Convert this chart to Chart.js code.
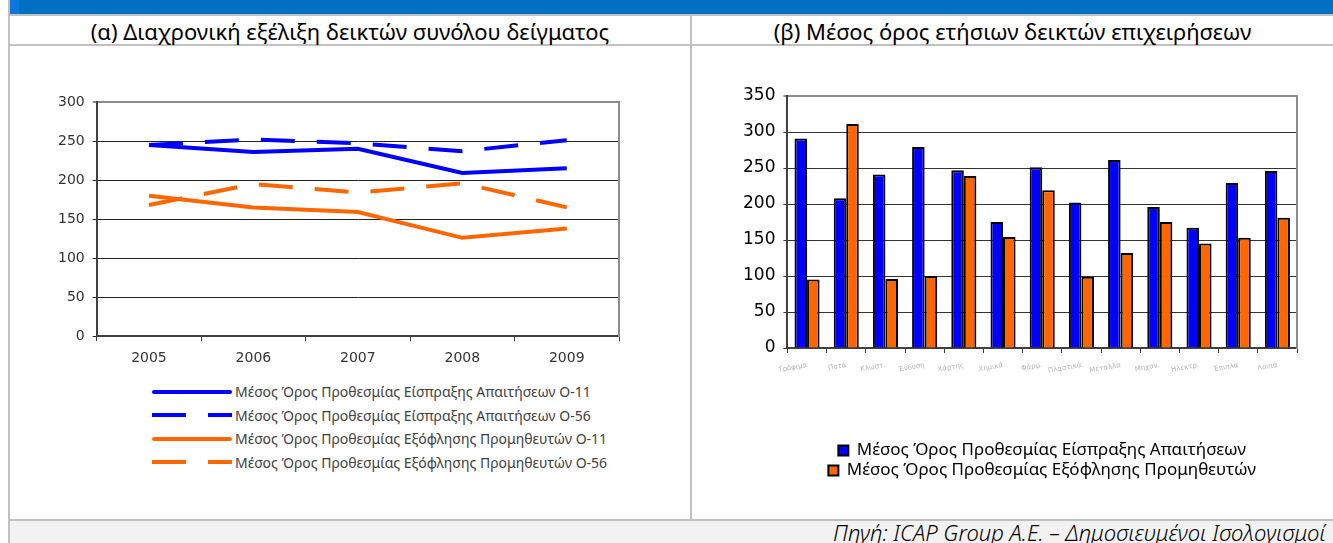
<!DOCTYPE html>
<html>
<head>
<meta charset="utf-8">
<script src="https://cdn.jsdelivr.net/npm/chart.js@4.4.1/dist/chart.umd.min.js"></script>
<style>
  body { margin: 0; width: 1333px; height: 543px; overflow: hidden; background: #fff; font-family: "Noto Sans", "Open Sans", sans-serif; position: relative; }
  .bar { position: absolute; left: 10px; top: 0; width: 1323px; height: 14px; background: #0070c0; }
  .bar .accent { position: absolute; left: 0; top: 0; width: 9px; height: 14px; background: #0a78dc; }
  .edge { position: absolute; left: 8px; top: 0; width: 2px; height: 543px; background: #c0c0c0; }
  .hline { position: absolute; left: 10px; width: 1323px; height: 2px; background: #c0c0c0; }
  .vline { position: absolute; left: 690px; top: 14px; width: 2px; height: 506px; background: #c0c0c0; }
  .title { position: absolute; top: 16px; height: 28px; line-height: 30px; font-size: 22px; color: #000; text-align: center; }
  .footer { position: absolute; left: 10px; top: 521px; width: 1323px; height: 22px; background: #f2f2f2; overflow: hidden; }
  .footer span { position: absolute; left: 823px; top: -1px; font-style: italic; font-size: 22px; line-height: 24px; white-space: nowrap; color: #000; font-weight: 300; }
  .box { position: absolute; }
  #legendA { position: absolute; left: 152px; top: 380px; font-size: 14px; color: #404040; }
  #legendA .row { height: 23.5px; display: flex; align-items: center; }
  #legendA .sample { width: 80px; height: 4px; margin-right: 3px; }
</style>
</head>
<body>
<div class="edge"></div>
<div class="bar"><div class="accent"></div></div>
<div class="hline" style="top:14px"></div>
<div class="hline" style="top:44px"></div>
<div class="hline" style="top:519px"></div>
<div class="vline"></div>
<div class="title" style="left:10px;width:680px">(α) Διαχρονική εξέλιξη δεικτών συνόλου δείγματος</div>
<div class="title" style="left:692px;width:641px">(β) Μέσος όρος ετήσιων δεικτών επιχειρήσεων</div>
<div class="box" style="left:10px;top:46px;width:680px;height:330px"><canvas id="lineChart"></canvas></div>
<div id="legendA"></div>
<div class="box" style="left:692px;top:46px;width:641px;height:473px"><canvas id="barChart"></canvas></div>
<div class="footer"><span>Πηγή: ICAP Group A.E. – Δημοσιευμένοι Ισολογισμοί</span></div>
<script>
// (α) yearly evolution
const years = ['2005', '2006', '2007', '2008', '2009'];
const receivO11 = [245, 236, 240, 209, 215];
const receivO56 = [245, 252, 247, 237, 251];
const payO11 = [180, 165, 159, 126, 138];
const payO56 = [168, 195, 184, 196, 165];
const lineNames = [
  'Μέσος Όρος Προθεσμίας Είσπραξης Απαιτήσεων O-11',
  'Μέσος Όρος Προθεσμίας Είσπραξης Απαιτήσεων O-56',
  'Μέσος Όρος Προθεσμίας Εξόφλησης Προμηθευτών O-11',
  'Μέσος Όρος Προθεσμίας Εξόφλησης Προμηθευτών O-56'
];
const lineTicks = [0, 50, 100, 150, 200, 250, 300];

// (β) average yearly per company group
const groups = ['Τρόφιμα', 'Ποτά', 'Κλωστ.', 'Ένδυση', 'Χάρτης', 'Χημικά', 'Φάρμ.', 'Πλαστικά', 'Μέταλλα', 'Μηχαν.', 'Ηλεκτρ.', 'Έπιπλα', 'Λοιπά'];
const receivAvg = [291, 208, 241, 279, 247, 175, 251, 202, 261, 196, 167, 229, 246];
const payAvg = [95, 311, 96, 100, 239, 154, 219, 99, 132, 175, 145, 153, 181];
const barNames = ['Μέσος Όρος Προθεσμίας Είσπραξης Απαιτήσεων', 'Μέσος Όρος Προθεσμίας Εξόφλησης Προμηθευτών'];

const BLUE = '#0000ff';
const ORANGE = '#ff6600';
const DASH = [34, 22];

const lineSeries = [receivO11, receivO56, payO11, payO56];
const lineColors = [BLUE, BLUE, ORANGE, ORANGE];
const lineDashed = [false, true, false, true];

const tickFont = { family: 'DejaVu Sans', size: 14 };

new Chart(document.getElementById('lineChart'), {
  type: 'line',
  data: {
    labels: years,
    datasets: lineSeries.map((vals, i) => ({
      label: lineNames[i],
      data: vals,
      borderColor: lineColors[i],
      backgroundColor: lineColors[i],
      borderWidth: 4,
      borderDash: lineDashed[i] ? DASH : [],
      pointRadius: 0,
      tension: 0
    }))
  },
  options: {
    responsive: true,
    maintainAspectRatio: false,
    animation: false,
    layout: { padding: { top: 56, left: 40, right: 71, bottom: 0 } },
    plugins: { legend: { display: false }, tooltip: { enabled: false } },
    scales: {
      x: {
        offset: true,
        grid: { offset: true, drawOnChartArea: false, tickLength: 5, color: '#404040' },
        border: { color: '#404040', width: 2 },
        ticks: { font: tickFont, color: '#333', padding: 9 }
      },
      y: {
        min: 0, max: 300,
        afterBuildTicks: s => { s.ticks = lineTicks.map(v => ({ value: v })); },
        grid: {
          color: c => c.tick && c.tick.value === 300 ? '#8c8c8c' : '#222',
          lineWidth: c => c.tick && c.tick.value === 300 ? 2 : 1,
          tickLength: 4
        },
        border: { color: '#404040', width: 2 },
        ticks: { font: tickFont, color: '#333', padding: 8 }
      },
      y2: {
        position: 'right',
        grid: { drawOnChartArea: false, drawTicks: false },
        border: { color: '#8c8c8c', width: 2 },
        ticks: { display: false }
      }
    }
  }
});

// html legend for (α)
const legendA = document.getElementById('legendA');
lineNames.forEach((name, i) => {
  const row = document.createElement('div');
  row.className = 'row';
  const sample = document.createElement('div');
  sample.className = 'sample';
  const c = lineColors[i];
  sample.style.background = lineDashed[i]
    ? `linear-gradient(to right, ${c} 0 ${DASH[0]}px, transparent ${DASH[0]}px ${DASH[0] + DASH[1]}px, ${c} ${DASH[0] + DASH[1]}px 80px)`
    : c;
  if (!lineDashed[i]) sample.style.borderRadius = '2px';
  const txt = document.createElement('span');
  txt.textContent = name;
  row.appendChild(sample);
  row.appendChild(txt);
  legendA.appendChild(row);
});

new Chart(document.getElementById('barChart'), {
  type: 'bar',
  data: {
    labels: groups,
    datasets: [
      { label: barNames[0], data: receivAvg, backgroundColor: BLUE, borderColor: '#000', borderWidth: 2 },
      { label: barNames[1], data: payAvg, backgroundColor: ORANGE, borderColor: '#000', borderWidth: 2 }
    ]
  },
  options: {
    responsive: true,
    maintainAspectRatio: false,
    animation: false,
    layout: { padding: { top: 50, left: 43, right: 36, bottom: 30 } },
    datasets: { bar: { categoryPercentage: 0.64, barPercentage: 1 } },
    plugins: {
      tooltip: { enabled: false },
      legend: {
        position: 'bottom',
        fullSize: false,
        labels: {
          font: { family: 'Noto Sans', size: 17 },
          color: '#000',
          boxWidth: 10,
          boxHeight: 10,
          padding: 3
        }
      }
    },
    scales: {
      x: {
        grid: { offset: true, drawOnChartArea: false, tickLength: 5, color: '#404040' },
        border: { color: '#404040', width: 2 },
        ticks: { font: { family: 'DejaVu Sans', size: 7 }, color: '#b4b4b4', minRotation: 10, maxRotation: 10, padding: 8, autoSkip: false },
        afterFit: s => { s.height = 91; }
      },
      y: {
        min: 0, max: 350,
        ticks: { stepSize: 50, font: { family: 'DejaVu Sans', size: 17 }, color: '#000', padding: 8 },
        grid: {
          color: c => c.tick && c.tick.value === 350 ? '#8c8c8c' : '#333',
          lineWidth: c => c.tick && c.tick.value === 350 ? 2 : 1,
          tickLength: 4
        },
        border: { color: '#404040', width: 2 }
      },
      y2: {
        position: 'right',
        grid: { drawOnChartArea: false, drawTicks: false },
        border: { color: '#8c8c8c', width: 2 },
        ticks: { display: false }
      }
    }
  }
});
</script>
</body>
</html>
